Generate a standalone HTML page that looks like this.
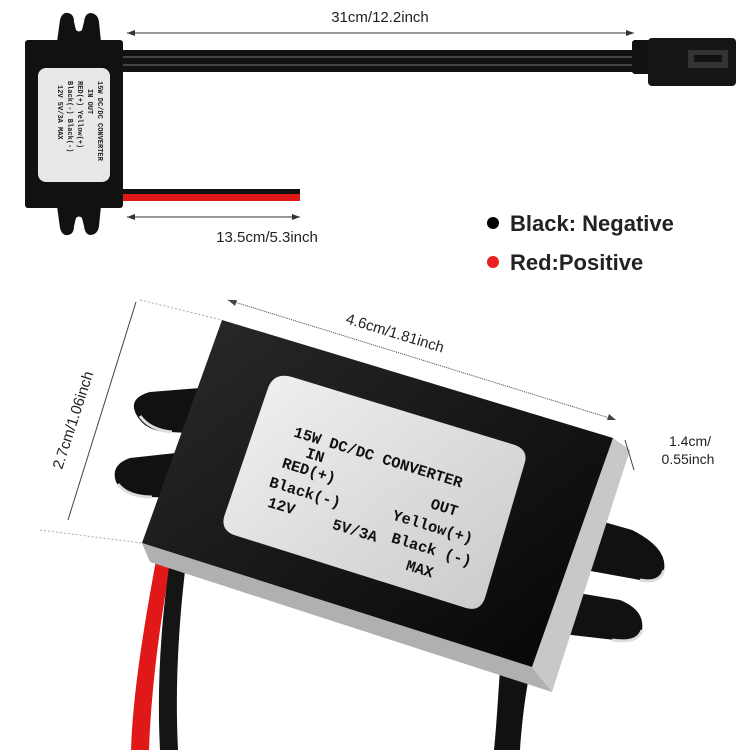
<!DOCTYPE html>
<html><head><style>
body{margin:0;background:#fff;}
svg{display:block;font-family:"Liberation Sans",sans-serif;}
.m{font-family:"Liberation Mono",monospace;font-weight:bold;}
</style></head><body>
<svg width="750" height="750" viewBox="0 0 750 750">
<defs>
<linearGradient id="blk" x1="0" y1="0" x2="1" y2="1"><stop offset="0" stop-color="#2a2a2a"/><stop offset="1" stop-color="#050505"/></linearGradient>
<linearGradient id="lab" x1="0" y1="0" x2="1" y2="1"><stop offset="0" stop-color="#f2f2f2"/><stop offset="1" stop-color="#c9c9c9"/></linearGradient>
</defs>
<!-- small converter flanges -->
<path d="M57 42 L60 20 Q62 12 68 13 Q74 14 74 22 L76 30 Q79 33 82 30 L84 22 Q85 13 91 13 Q98 14 99 22 L101 42 Z" fill="#111"/>
<path d="M57 206 L60 228 Q62 236 68 235 Q74 234 74 226 L76 218 Q79 215 82 218 L84 226 Q85 235 91 235 Q98 234 99 226 L101 206 Z" fill="#111"/>
<rect x="25" y="40" width="98" height="168" rx="3" fill="#111"/>
<rect x="38" y="68" width="72" height="114" rx="8" fill="#e8e8e8"/>
<g transform="translate(74,125) rotate(90)" class="m" font-size="7" fill="#222">
<text x="-44" y="-24">15W DC/DC CONVERTER</text>
<text x="-36" y="-14">IN         OUT</text>
<text x="-44" y="-4">RED(+)  Yellow(+)</text>
<text x="-44" y="6">Black(-)  Black(-)</text>
<text x="-40" y="16">12V  5V/3A  MAX</text>
</g>
<rect x="123" y="50" width="522" height="22" fill="#111"/>
<line x1="123" y1="57" x2="645" y2="57" stroke="#555" stroke-width="1.5"/>
<line x1="123" y1="65" x2="645" y2="65" stroke="#555" stroke-width="1.5"/>
<rect x="632" y="40" width="20" height="34" rx="3" fill="#111"/>
<rect x="648" y="38" width="88" height="48" rx="4" fill="#151515"/>
<rect x="688" y="50" width="40" height="18" fill="#333"/>
<rect x="694" y="55" width="28" height="7" fill="#111"/>
<line x1="127" y1="33" x2="634" y2="33" stroke="#333" stroke-width="1"/>
<path d="M127 33 l8 -3 v6z M634 33 l-8 -3 v6z" fill="#333"/>
<text x="380" y="22" font-size="15" text-anchor="middle" fill="#222">31cm/12.2inch</text>
<rect x="123" y="189" width="177" height="5" fill="#111"/>
<rect x="123" y="194" width="177" height="7" fill="#e01818"/>
<line x1="127" y1="217" x2="300" y2="217" stroke="#333"/>
<path d="M127 217 l8 -3 v6z M300 217 l-8 -3 v6z" fill="#333"/>
<text x="267" y="242" font-size="15" text-anchor="middle" fill="#222">13.5cm/5.3inch</text>
<circle cx="493" cy="223" r="6" fill="#000"/>
<text x="510" y="231" font-size="22" font-weight="bold" fill="#222">Black: Negative</text>
<circle cx="493" cy="262" r="6" fill="#e82020"/>
<text x="510" y="270" font-size="22" font-weight="bold" fill="#222">Red:Positive</text>
<!-- wires -->
<path d="M157 555 C145 620 133 690 131 750 L149 750 C151 690 160 620 172 557Z" fill="#e01818"/>
<path d="M170 560 C160 630 157 690 160 750 L178 750 C175 690 178 630 186 562Z" fill="#151515"/>
<path d="M500 668 C498 700 496 730 494 750 L520 750 C522 720 526 690 530 672Z" fill="#111"/>
<!-- flanges -->
<path d="M200 388 L150 392 Q128 398 136 414 Q145 432 170 432 L205 434 Z" fill="#111"/>
<path d="M140 416 Q150 430 172 432" stroke="#ddd" stroke-width="3" fill="none"/>
<path d="M185 452 L130 458 Q110 465 116 482 Q125 498 150 497 L180 498 Z" fill="#111"/>
<path d="M118 484 Q128 497 152 497" stroke="#ddd" stroke-width="3" fill="none"/>
<path d="M590 518 L632 530 Q668 548 664 570 Q660 583 640 580 L585 570 Z" fill="#111"/>
<path d="M640 580 Q660 584 664 570" stroke="#ddd" stroke-width="3" fill="none"/>
<path d="M560 590 L620 600 Q645 610 642 630 Q638 643 615 640 L545 632 Z" fill="#111"/>
<path d="M612 640 Q638 644 642 630" stroke="#ddd" stroke-width="3" fill="none"/>
<!-- side & bottom silver -->
<path d="M613 438 L630 450 L552 692 L532 667 Z" fill="#c8c8c8"/>
<path d="M142 543 L532 667 L552 692 L150 562 Z" fill="#b0b0b0"/>
<!-- front face -->
<path d="M222 320 L613 438 L532 667 L142 543 Z" fill="url(#blk)"/>
<!-- label -->
<path d="M292 377 L515 445 Q528 450 525 462 L485 598 Q480 612 466 608 L234 535 Q221 530 224 517 L268 388 Q274 372 292 377 Z" fill="url(#lab)"/>
<g transform="translate(370,515) rotate(17) scale(1.1)" class="m" font-size="14" fill="#111">
<text x="-88" y="-48">15W DC/DC CONVERTER</text>
<text x="-72" y="-33">IN</text>
<text x="-90" y="-18">RED(+)</text>
<text x="50" y="-22">OUT</text>
<text x="-96" y="2">Black(-)</text>
<text x="20" y="-2">Yellow(+)</text>
<text x="-92" y="20">12V</text>
<text x="-30" y="22">5V/3A</text>
<text x="25" y="18">Black (-)</text>
<text x="45" y="38">MAX</text>
</g>
<!-- dims -->
<line x1="228" y1="300" x2="616" y2="420" stroke="#444" stroke-dasharray="1 1"/>
<path d="M228 300 l9 0 l-2 6z M616 420 l-9 0 l2 -6z" fill="#444"/>
<text x="0" y="0" font-size="15" fill="#222" transform="translate(345,323) rotate(17)">4.6cm/1.81inch</text>
<line x1="140" y1="300" x2="222" y2="320" stroke="#aaa" stroke-dasharray="2 2"/>
<line x1="40" y1="530" x2="142" y2="543" stroke="#aaa" stroke-dasharray="2 2"/>
<line x1="136" y1="302" x2="68" y2="520" stroke="#444"/>
<text x="0" y="0" font-size="15" fill="#222" transform="translate(62,470) rotate(-72)">2.7cm/1.06inch</text>
<line x1="625" y1="440" x2="634" y2="470" stroke="#444"/>
<text x="690" y="446" font-size="14" text-anchor="middle" fill="#222">1.4cm/</text>
<text x="688" y="464" font-size="14" text-anchor="middle" fill="#222">0.55inch</text>
</svg>
</body></html>
